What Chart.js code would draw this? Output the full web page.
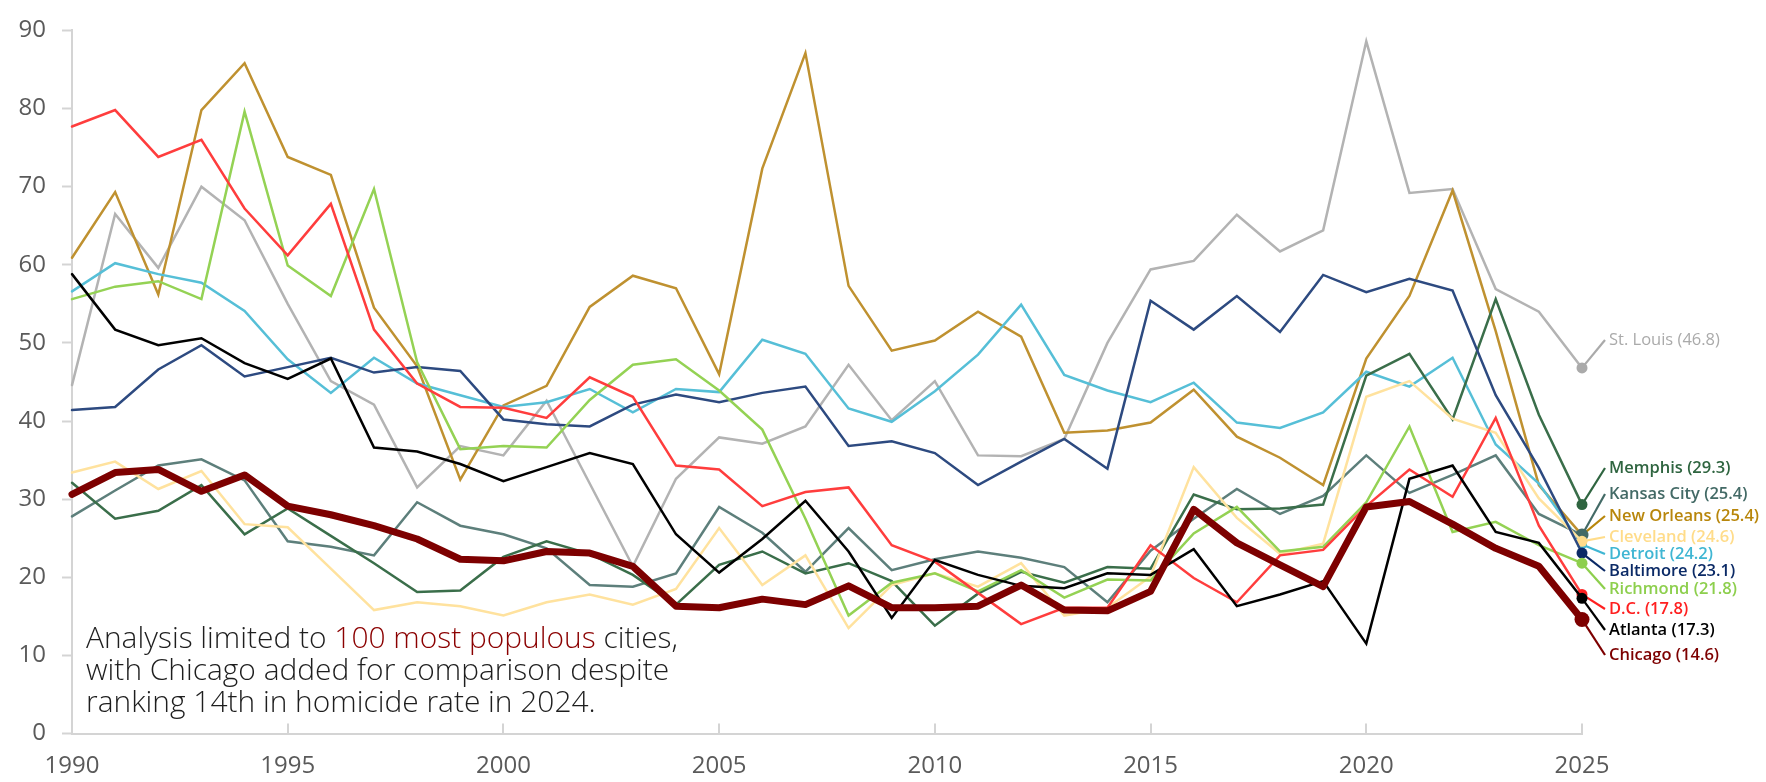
<!DOCTYPE html>
<html><head><meta charset="utf-8">
<script src="https://cdn.jsdelivr.net/npm/chart.js@4.4.1/dist/chart.umd.min.js"></script>
<style>html,body{margin:0;padding:0;background:#fff;}#wrap{width:1766px;height:782px;position:relative;}</style>
</head><body><div id="wrap"><canvas id="c" width="1766" height="782"></canvas></div>
<script>
// ---------- DATA ----------
const years = [1990,1991,1992,1993,1994,1995,1996,1997,1998,1999,2000,2001,2002,2003,2004,2005,2006,2007,2008,2009,2010,2011,2012,2013,2014,2015,2016,2017,2018,2019,2020,2021,2022,2023,2024,2025];
const xTickYears = [1990,1995,2000,2005,2010,2015,2020,2025];
const yTickValues = [0,10,20,30,40,50,60,70,80,90];

const stLouis    = [44.6,66.5,59.6,70.0,65.7,55.0,45.1,42.1,31.5,36.8,35.6,42.6,32.0,21.4,32.6,37.9,37.1,39.3,47.2,40.1,45.1,35.6,35.5,37.7,50.0,59.4,60.5,66.4,61.7,64.4,88.6,69.2,69.7,56.9,54.0,46.8];
const memphis    = [32.1,27.5,28.5,31.8,25.5,28.8,25.3,21.8,18.1,18.3,22.6,24.6,23.0,20.3,16.5,21.6,23.3,20.5,21.8,19.5,13.8,17.9,20.7,19.3,21.3,21.1,30.6,28.7,28.8,29.3,45.8,48.6,40.2,55.6,40.8,29.3];
const kansasCity = [27.8,31.1,34.3,35.1,32.4,24.6,23.9,22.8,29.6,26.6,25.5,23.7,19.0,18.8,20.5,29.0,25.7,20.7,26.3,20.9,22.3,23.3,22.5,21.3,16.8,23.4,27.5,31.3,28.1,30.4,35.6,30.8,33.1,35.6,28.1,25.4];
const newOrleans = [60.9,69.3,56.2,79.8,85.8,73.8,71.5,54.5,47.0,32.5,42.0,44.5,54.6,58.6,57.0,46.0,72.3,87.1,57.3,49.0,50.3,54.0,50.8,38.5,38.8,39.8,44.0,38.0,35.3,31.8,48.0,56.0,69.5,51.5,31.8,25.4];
const cleveland  = [33.4,34.8,31.3,33.6,26.8,26.4,21.1,15.8,16.8,16.3,15.1,16.8,17.8,16.5,18.5,26.3,19.0,22.8,13.5,19.0,20.5,18.8,21.8,15.1,16.1,20.1,34.1,27.6,23.0,24.3,43.1,45.1,40.3,38.5,30.1,24.6];
const detroit    = [56.6,60.2,58.8,57.7,54.1,47.9,43.6,48.1,44.8,43.3,41.8,42.4,44.1,41.1,44.1,43.7,50.4,48.6,41.6,39.9,43.8,48.5,54.9,45.9,43.9,42.4,44.9,39.8,39.1,41.1,46.3,44.4,48.1,37.0,32.0,24.2];
const baltimore  = [41.4,41.8,46.6,49.7,45.7,46.9,48.1,46.2,46.9,46.4,40.2,39.6,39.3,42.1,43.4,42.4,43.6,44.4,36.8,37.4,35.9,31.8,34.8,37.7,33.9,55.4,51.7,56.0,51.4,58.7,56.5,58.2,56.7,43.3,34.0,23.1];
const richmond   = [55.6,57.2,57.9,55.6,79.6,59.9,56.0,69.7,47.5,36.4,36.8,36.6,42.7,47.2,47.9,43.9,38.9,27.5,15.1,19.3,20.5,18.2,20.9,17.4,19.7,19.6,25.6,29.0,23.3,23.9,29.6,39.3,25.8,27.1,24.1,21.8];
const dc         = [77.7,79.8,73.8,76.0,67.2,61.2,67.8,51.7,44.8,41.8,41.7,40.4,45.6,43.1,34.3,33.8,29.1,30.9,31.5,24.1,22.0,18.0,14.0,16.1,16.1,24.1,19.9,16.8,22.8,23.5,29.1,33.8,30.3,40.4,26.6,17.8];
const atlanta    = [58.8,51.7,49.7,50.6,47.4,45.4,48.0,36.6,36.1,34.5,32.3,34.1,35.9,34.5,25.5,20.6,24.9,29.8,23.3,14.8,22.2,20.3,18.9,18.6,20.5,20.3,23.6,16.3,17.8,19.5,11.5,32.6,34.3,25.8,24.4,17.3];
const chicago    = [30.6,33.4,33.8,31.0,33.1,29.1,28.0,26.6,24.9,22.3,22.1,23.3,23.1,21.4,16.3,16.1,17.2,16.5,18.9,16.1,16.1,16.3,19.0,15.8,15.7,18.2,28.7,24.4,21.6,18.8,29.0,29.7,26.8,23.7,21.4,14.6];

const cityNames  = ["St. Louis","Memphis","Kansas City","New Orleans","Cleveland","Detroit","Baltimore","Richmond","D.C.","Atlanta","Chicago"];
const cityValues = [stLouis,memphis,kansasCity,newOrleans,cleveland,detroit,baltimore,richmond,dc,atlanta,chicago];
const labelValues = ["46.8","29.3","25.4","25.4","24.6","24.2","23.1","21.8","17.8","17.3","14.6"];

// ---------- STYLE ----------
const styles = [
  {line:"#b3b3b3", mark:"#aaaaaa", w:2.5, r:5.5, ly:340, bold:false, order:10},
  {line:"#3a6e4a", mark:"#2f6540", w:2.5, r:5.5, ly:468, bold:true, order:6},
  {line:"#5d7f7b", mark:"#436a66", w:2.5, r:6.5, ly:494, bold:true, order:7},
  {line:"#bf9130", mark:"#b8860b", w:2.5, r:5.5, ly:516, bold:true, order:9},
  {line:"#ffe29e", mark:"#ffdc8a", w:2.5, r:5.5, ly:537, bold:true, order:5},
  {line:"#56bfd7", mark:"#3fb6d3", w:2.5, r:5,   ly:554, bold:true, order:8},
  {line:"#2d4a80", mark:"#0b2a66", w:2.5, r:5.5, ly:571, bold:true, order:4},
  {line:"#94d254", mark:"#8dcf4d", w:2.5, r:5.5, ly:589, bold:true, order:3},
  {line:"#ff3d3d", mark:"#ff2020", w:2.5, r:5.5, ly:609, bold:true, order:2},
  {line:"#000000", mark:"#000000", w:2.5, r:5.5, ly:630, bold:true, order:1},
  {line:"#7d0000", mark:"#7d0000", w:7,   r:7.5, ly:655, bold:true, order:0}
];
const FONT = "'Open Sans', 'DejaVu Sans', sans-serif";
const AXIS = "#d4d4d4";
const TICKTEXT = "#5a5a5a";

const datasets = cityValues.map((vals,i)=>({
  label: cityNames[i],
  data: vals.map((v,j)=>({x:years[j], y:v})),
  borderColor: styles[i].line,
  backgroundColor: styles[i].mark,
  pointBackgroundColor: styles[i].mark,
  pointBorderColor: styles[i].mark,
  pointBorderWidth: 0,
  borderWidth: styles[i].w,
  tension: 0,
  borderJoinStyle: i===10 ? 'round' : 'miter',
  borderCapStyle: 'round',
  pointRadius: ctx => ctx.dataIndex === vals.length-1 ? styles[i].r : 0,
  pointHoverRadius: 0,
  order: styles[i].order,
  clip: false,
  fill: false
}));

const overlay = {
  id: 'overlay',
  beforeDatasetsDraw(chart){
    const ctx = chart.ctx;
    ctx.save();
    cityNames.forEach((n,i)=>{
      const meta = chart.getDatasetMeta(i);
      const pt = meta.data[meta.data.length-1];
      ctx.strokeStyle = styles[i].mark;
      ctx.lineWidth = 2.2;
      ctx.beginPath();
      ctx.moveTo(pt.x, pt.y);
      ctx.lineTo(pt.x + 23, styles[i].ly);
      ctx.stroke();
    });
    ctx.restore();
  },
  afterDraw(chart){
    const ctx = chart.ctx, xs = chart.scales.x, area = chart.chartArea;
    ctx.save();
    // upward x ticks
    ctx.strokeStyle = AXIS; ctx.lineWidth = 2;
    xTickYears.forEach(yr=>{
      if (yr === xTickYears[0]) return;
      const px = Math.round(xs.getPixelForValue(yr));
      ctx.beginPath(); ctx.moveTo(px, area.bottom); ctx.lineTo(px, area.bottom - 10); ctx.stroke();
    });
    // end labels
    ctx.textBaseline = 'middle'; ctx.textAlign = 'left';
    cityNames.forEach((n,i)=>{
      const meta = chart.getDatasetMeta(i);
      const pt = meta.data[meta.data.length-1];
      ctx.font = (styles[i].bold ? '600 ' : '400 ') + '16.5px ' + FONT;
      ctx.fillStyle = styles[i].mark;
      ctx.fillText(n + ' (' + labelValues[i] + ')', pt.x + 27, styles[i].ly);
    });
    // note
    const parts1 = [["Analysis limited to ", "#1e1e1e"],["100 most populous", "#8b0000"],[" cities,", "#1e1e1e"]];
    const line2 = "with Chicago added for comparison despite";
    const line3 = "ranking 14th in homicide rate in 2024.";
    ctx.font = '300 100px ' + FONT;
    const w100 = ctx.measureText(parts1.map(p=>p[0]).join('')).width;
    const fs = 100 * 592 / w100;
    ctx.font = '300 ' + fs.toFixed(2) + 'px ' + FONT;
    ctx.textBaseline = 'alphabetic';
    let x = 86;
    parts1.forEach(p=>{ ctx.fillStyle = p[1]; ctx.fillText(p[0], x, 648); x += ctx.measureText(p[0]).width; });
    ctx.fillStyle = "#1e1e1e";
    ctx.fillText(line2, 86, 680);
    ctx.fillText(line3, 86, 712);
    ctx.restore();
  }
};

Chart.defaults.font.family = FONT;
new Chart(document.getElementById('c'), {
  type: 'line',
  data: { datasets },
  options: {
    responsive: false,
    animation: false,
    devicePixelRatio: 1,
    layout: { padding: { top: 15, right: 184, left: 0, bottom: 0 } },
    plugins: { legend: { display: false }, tooltip: { enabled: false } },
    scales: {
      x: {
        type: 'linear', min: years[0], max: years[years.length-1],
        afterBuildTicks: s => { s.ticks = xTickYears.map(v=>({value:v})); },
        afterFit: s => { s.height = 48.5; },
        grid: { drawOnChartArea: false, drawTicks: false },
        border: { display: true, color: AXIS, width: 2 },
        ticks: { color: TICKTEXT, font: { size: 24 }, padding: 18, maxRotation: 0, autoSkip: false, callback: v => String(v) }
      },
      y: {
        min: 0, max: 90,
        afterBuildTicks: s => { s.ticks = yTickValues.map(v=>({value:v})); },
        afterFit: s => { s.width = 72; },
        grid: { drawOnChartArea: false, drawTicks: true, tickLength: 10, tickColor: AXIS, tickWidth: 2 },
        border: { display: true, color: AXIS, width: 2 },
        ticks: { color: TICKTEXT, font: { size: 24 }, padding: 16, callback: v => String(v) }
      }
    }
  },
  plugins: [overlay]
});
</script></body></html>
